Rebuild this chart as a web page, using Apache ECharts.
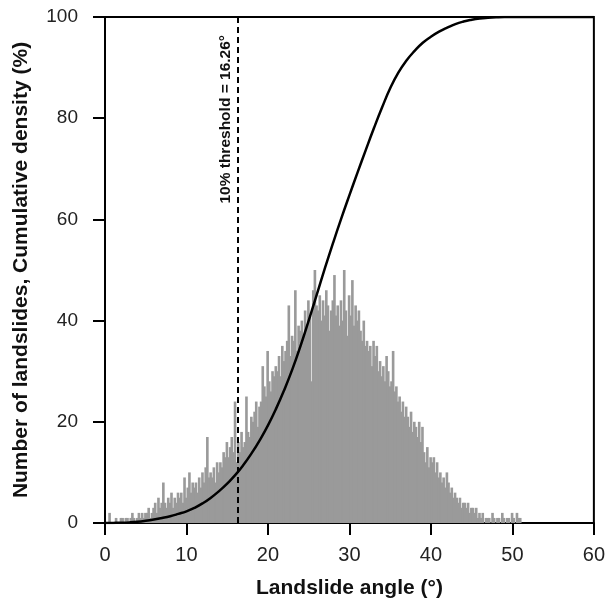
<!DOCTYPE html>
<html>
<head>
<meta charset="utf-8">
<script src="https://cdn.jsdelivr.net/npm/echarts@6/dist/echarts.min.js"></script>
<style>html,body{margin:0;padding:0;background:#fff;}#c{width:608px;height:608px;}</style>
</head>
<body>
<div id="c"></div>
<script>
// Histogram: landslide counts per 0.2° bin, starting at 0°
const binWidth = 0.2;
const binStart = 0;
const counts = [
  0,0,2,0,0,   0,1,0,0,1,   1,0,1,1,0,   1,2,1,0,1,   2,1,2,1,2,
  2,3,1,2,3,   4,2,5,3,4,   8,4,3,5,4,   6,3,5,4,6,   5,6,4,9,5,
  7,10,6,8,7,  8,6,9,7,10,  8,11,17,9,10, 9,11,8,12,10, 12,11,14,13,16,
  13,15,17,14,24, 12,16,14,18,15, 16,25,18,17,21, 20,22,24,19,23, 24,31,27,25,34,
  28,26,30,29,31, 30,33,29,35,32, 34,36,43,33,37, 36,46,34,39,38, 40,37,42,39,44,
  41,28,46,50,43, 42,45,40,44,41, 46,43,38,42,44, 49,41,43,39,44, 40,50,42,37,45,
  41,48,39,43,40, 42,38,36,40,35, 36,34,35,31,36, 33,35,30,32,29, 31,28,33,30,27,
  28,34,26,27,24, 25,22,24,21,23, 21,19,22,18,20, 19,17,20,16,19, 14,12,15,11,13,
  12,13,10,12,9,  10,8,9,7,10,  8,6,7,5,6,   5,4,5,3,4,   4,3,4,2,3,
  3,2,3,1,2,   1,2,0,1,1,   1,0,2,1,0,   1,1,0,2,1,   0,1,1,0,2,
  1,0,2,1,1,   0
];
// Cumulative density (%) at whole degrees
const cumAngles = [0,1,2,3,4,5,6,7,8,9,10,11,12,13,14,15,16,17,18,19,20,21,22,23,24,25,26,27,28,29,30,31,32,33,34,35,36,37,38,39,40,41,42,43,44,45,46,47,48,49,50,55,60];
const cumValues = [0,0.02,0.05,0.12,0.25,0.45,0.7,1.0,1.35,1.8,2.3,3.0,3.9,5.0,6.3,7.8,9.5,11.5,13.8,16.4,19.3,22.6,26.3,30.4,35.0,40.0,45.2,50.4,55.4,60.2,64.8,69.3,73.7,78.0,82.1,85.9,89.0,91.4,93.3,94.9,96.1,97.1,97.9,98.6,99.1,99.45,99.7,99.85,99.95,100,100,100,100];
const threshold = 16.26;
const thresholdLabel = '10% threshold = 16.26°';
const xTitle = 'Landslide angle (°)';
const yTitle = 'Number of landslides, Cumulative density (%)';

const histData = counts.map((c, i) => [binStart + i * binWidth, binStart + (i + 1) * binWidth, c]);
const cumData = cumAngles.map((a, i) => [a, cumValues[i]]);

const chart = echarts.init(document.getElementById('c'), null, {renderer: 'canvas'});
const font = '"Liberation Sans", Arial, sans-serif';
chart.setOption({
  animation: false,
  backgroundColor: '#fff',
  grid: {left: 105, right: 14, top: 17, bottom: 85, show: true, borderColor: '#000', borderWidth: 2, backgroundColor: 'transparent'},
  xAxis: {
    type: 'value', min: 0, max: 60, interval: 10,
    name: xTitle, nameLocation: 'middle', nameGap: 55,
    nameTextStyle: {fontFamily: font, fontWeight: 'bold', fontSize: 21, color: '#111'},
    axisLine: {show: true, lineStyle: {color: '#000', width: 2}},
    axisTick: {show: true, inside: false, length: 12, lineStyle: {color: '#000', width: 2}},
    axisLabel: {fontFamily: font, fontSize: 20, color: '#222', margin: 22},
    splitLine: {show: false}
  },
  yAxis: {
    type: 'value', min: 0, max: 100, interval: 20,
    name: yTitle, nameLocation: 'middle', nameGap: 73,
    nameTextStyle: {fontFamily: font, fontWeight: 'bold', fontSize: 21, color: '#111'},
    axisLine: {show: true, lineStyle: {color: '#000', width: 2}},
    axisTick: {show: true, inside: false, length: 12, lineStyle: {color: '#000', width: 2}},
    axisLabel: {fontFamily: font, fontSize: 19, color: '#222', margin: 27},
    splitLine: {show: false}
  },
  series: [
    {
      type: 'custom',
      data: histData,
      z: 1,
      renderItem: function (params, api) {
        const p0 = api.coord([api.value(0), api.value(2)]);
        const p1 = api.coord([api.value(1), 0]);
        return {
          type: 'rect',
          shape: {x: p0[0], y: p0[1], width: p1[0] - p0[0] + 1, height: p1[1] - p0[1]},
          style: {fill: '#9a9a9a'}
        };
      }
    },
    {
      type: 'line',
      data: cumData,
      smooth: true,
      showSymbol: false,
      z: 5,
      lineStyle: {color: '#000', width: 2.5},
      markLine: {
        silent: true,
        symbol: ['none', 'none'],
        lineStyle: {color: '#000', type: [6, 4], width: 2},
        label: {
          show: true, position: 'insideEndTop', formatter: thresholdLabel,
          fontFamily: font, fontWeight: 'bold', fontSize: 15.5, color: '#111', distance: [18, 4]
        },
        data: [{xAxis: threshold}]
      }
    }
  ]
});
</script>
</body>
</html>
